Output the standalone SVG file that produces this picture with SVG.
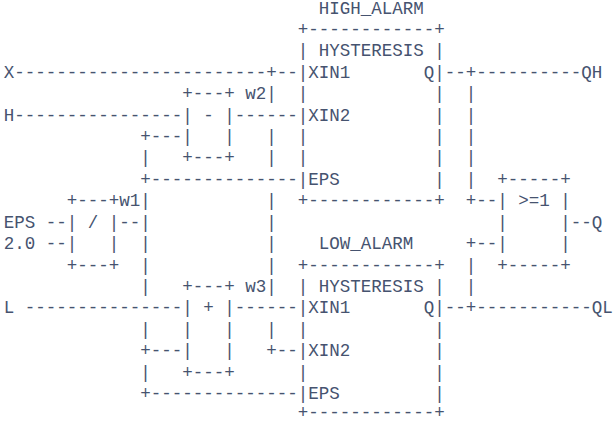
<svg xmlns="http://www.w3.org/2000/svg" width="615" height="423" viewBox="0 0 615 423">
<style>
text{font-family:"Liberation Mono","DejaVu Sans Mono",monospace;font-size:17.5px;fill:#46536f;white-space:pre}
</style>
<rect width="615" height="423" fill="#ffffff"/>
<g id="connectors">
<text x="14.25" y="77.8">------------------------+--</text>
<text x="444.75" y="77.8">--+----------</text>
<text x="245.25" y="99.2">w2|</text>
<text x="465.75" y="99.2">|</text>
<text x="14.25" y="120.6">----------------</text>
<text x="234.75" y="120.6">------</text>
<text x="465.75" y="120.6">|</text>
<text x="140.25" y="142">+---</text>
<text x="266.25" y="142">|</text>
<text x="465.75" y="142">|</text>
<text x="140.25" y="163.4">|</text>
<text x="266.25" y="163.4">|</text>
<text x="465.75" y="163.4">|</text>
<text x="140.25" y="184.9">+--------------</text>
<text x="465.75" y="184.9">|</text>
<text x="119.25" y="206.3">w1|</text>
<text x="266.25" y="206.3">|</text>
<text x="465.75" y="206.3">+--</text>
<text x="45.75" y="227.7">--</text>
<text x="119.25" y="227.7">--|</text>
<text x="266.25" y="227.7">|</text>
<text x="570.75" y="227.7">--</text>
<text x="45.75" y="249.1">--</text>
<text x="140.25" y="249.1">|</text>
<text x="266.25" y="249.1">|</text>
<text x="465.75" y="249.1">+--</text>
<text x="140.25" y="270.5">|</text>
<text x="266.25" y="270.5">|</text>
<text x="465.75" y="270.5">|</text>
<text x="140.25" y="292">|</text>
<text x="245.25" y="292">w3|</text>
<text x="465.75" y="292">|</text>
<text x="24.75" y="313.4">---------------</text>
<text x="234.75" y="313.4">------</text>
<text x="444.75" y="313.4">--+-----------</text>
<text x="140.25" y="334.8">|</text>
<text x="266.25" y="334.8">|</text>
<text x="140.25" y="356.2">+---</text>
<text x="266.25" y="356.2">+--</text>
<text x="140.25" y="377.6">|</text>
<text x="140.25" y="399">+--------------</text>
</g>
<g id="inputs">
<text x="3.75" y="77.8">X</text>
<text x="3.75" y="120.6">H</text>
<text x="3.75" y="227.7">EPS</text>
<text x="3.75" y="249.1">2.0</text>
<text x="3.75" y="313.4">L</text>
</g>
<g id="outputs">
<text x="581.25" y="77.8">QH</text>
<text x="591.75" y="227.7">Q</text>
<text x="591.75" y="313.4">QL</text>
</g>
<g id="high_alarm">
<text x="318.75" y="13.5">HIGH_ALARM</text>
<text x="297.75" y="34.9">+------------+</text>
<text x="297.75" y="56.3">| HYSTERESIS |</text>
<text x="297.75" y="77.8">|XIN1       Q|</text>
<text x="297.75" y="99.2">|            |</text>
<text x="297.75" y="120.6">|XIN2        |</text>
<text x="297.75" y="142">|            |</text>
<text x="297.75" y="163.4">|            |</text>
<text x="297.75" y="184.9">|EPS         |</text>
<text x="297.75" y="206.3">+------------+</text>
</g>
<g id="low_alarm">
<text x="318.75" y="249.1">LOW_ALARM</text>
<text x="297.75" y="270.5">+------------+</text>
<text x="297.75" y="292">| HYSTERESIS |</text>
<text x="297.75" y="313.4">|XIN1       Q|</text>
<text x="297.75" y="334.8">|            |</text>
<text x="297.75" y="356.2">|XIN2        |</text>
<text x="297.75" y="377.6">|            |</text>
<text x="297.75" y="399">|EPS         |</text>
<text x="297.75" y="417.7">+------------+</text>
</g>
<g id="sub">
<text x="182.25" y="99.2">+---+</text>
<text x="182.25" y="120.6">| - |</text>
<text x="182.25" y="142">|   |</text>
<text x="182.25" y="163.4">+---+</text>
</g>
<g id="div">
<text x="66.75" y="206.3">+---+</text>
<text x="66.75" y="227.7">| / |</text>
<text x="66.75" y="249.1">|   |</text>
<text x="66.75" y="270.5">+---+</text>
</g>
<g id="add">
<text x="182.25" y="292">+---+</text>
<text x="182.25" y="313.4">| + |</text>
<text x="182.25" y="334.8">|   |</text>
<text x="182.25" y="356.2">|   |</text>
<text x="182.25" y="377.6">+---+</text>
</g>
<g id="or">
<text x="497.25" y="184.9">+-----+</text>
<text x="497.25" y="206.3">| &gt;=1 |</text>
<text x="497.25" y="227.7">|     |</text>
<text x="497.25" y="249.1">|     |</text>
<text x="497.25" y="270.5">+-----+</text>
</g>
</svg>
